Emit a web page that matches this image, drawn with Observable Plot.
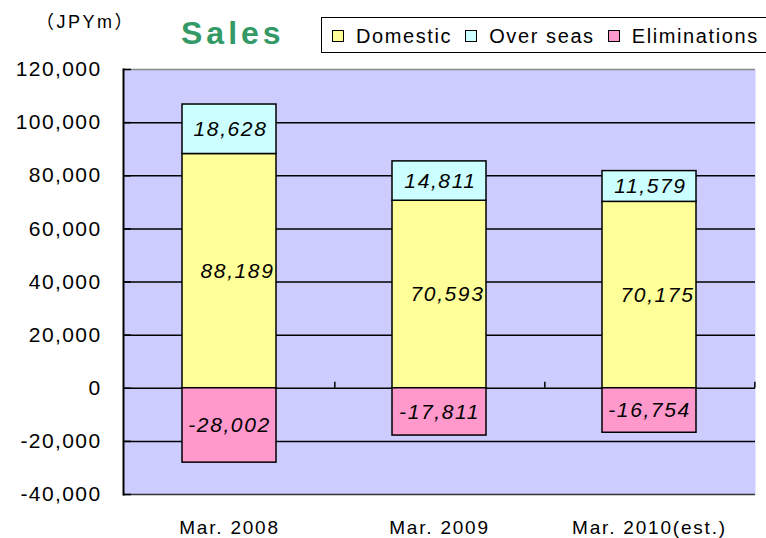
<!DOCTYPE html>
<html>
<head>
<meta charset="utf-8">
<script src="https://cdn.jsdelivr.net/npm/d3@7"></script>
<script src="https://cdn.jsdelivr.net/npm/@observablehq/plot@0.6"></script>
<style>
  html, body { margin: 0; padding: 0; background: #fff; }
  #wrap { position: relative; width: 766px; height: 538px; font-family: "Liberation Sans", Arial, sans-serif; }
  #unit { position: absolute; left: 36px; top: 7px; font-size: 18px; letter-spacing: 2.5px; color: #000; font-family: "Liberation Sans", "Noto Sans CJK JP", sans-serif; }
  #title { position: absolute; left: 181px; top: 15px; font-size: 32px; font-weight: bold; color: #339966; letter-spacing: 4px; }
  #legend { position: absolute; left: 321px; top: 17px; width: 460px; height: 34px; border: 1.5px solid #000; background: #fff; display: flex; align-items: center; font-size: 20px; letter-spacing: 1.6px; padding-top: 2px; box-sizing: border-box; height: 36px; }
  .sw { display: inline-block; width: 10px; height: 10px; border: 1.5px solid #000; margin: 0 12px 0 0; }
  .it { display: flex; align-items: center; margin-left: 10px; margin-right: 3px; }
  #chart g[aria-label="y-axis tick label"] text { letter-spacing: 1.4px; }
  #chart g[aria-label="x-axis tick label"] text { letter-spacing: 1.8px; }
  #chart g[aria-label="text"] text { letter-spacing: 1.6px; }
</style>
</head>
<body>
<div id="wrap">
  <div id="chart"></div>
  <div id="unit">（JPYm）</div>
  <div id="title">Sales</div>
  <div id="legend"></div>
</div>
<script>
const categories = ["Mar. 2008", "Mar. 2009", "Mar. 2010(est.)"];
const seriesNames = ["Domestic", "Over seas", "Eliminations"];
const seriesColors = ["#FFFF99", "#CCFFFF", "#FF99CC"];
const domestic = [88189, 70593, 70175];
const overseas = [18628, 14811, 11579];
const eliminations = [-28002, -17811, -16754];
const yTicks = [-40000, -20000, 0, 20000, 40000, 60000, 80000, 100000, 120000];

const seriesValues = [domestic, overseas, eliminations];
const data = [];
categories.forEach((c, i) => {
  seriesNames.forEach((s, j) => data.push({cat: c, series: s, value: seriesValues[j][i]}));
});

// label midpoints computed from the data
const labels = [];
categories.forEach((c, i) => {
  labels.push({cat: c, series: "Domestic", y: domestic[i] / 2, value: domestic[i]});
  labels.push({cat: c, series: "Over seas", y: domestic[i] + overseas[i] / 2, value: overseas[i]});
  labels.push({cat: c, series: "Eliminations", y: eliminations[i] / 2, value: eliminations[i]});
});
const fmt = v => d3.format(",")(v).replace("\u2212", "-");

// legend
const leg = document.getElementById("legend");
seriesNames.forEach((s, j) => {
  const it = document.createElement("span");
  it.className = "it";
  const sw = document.createElement("span");
  sw.className = "sw";
  sw.style.background = seriesColors[j];
  it.appendChild(sw);
  it.appendChild(document.createTextNode(s));
  leg.appendChild(it);
});

const step = (766 - 123 - 11) / categories.length;
const labelStyle = {fontSize: 21, fontStyle: "italic", fill: "#000"};

const chart = Plot.plot({
  width: 766,
  height: 538,
  marginTop: 69,
  marginBottom: 44,
  marginLeft: 123,
  marginRight: 11,
  style: {fontFamily: "Liberation Sans, Arial, sans-serif", background: "transparent"},
  x: {domain: categories, paddingInner: 0.55, paddingOuter: 0.275, axis: null},
  y: {domain: [-40000, 120000], axis: null},
  color: {domain: seriesNames, range: seriesColors},
  marks: [
    Plot.frame({fill: "#CCCCFF", stroke: null}),
    Plot.ruleY(yTicks.filter(v => v !== 120000 && v !== -40000), {stroke: "#000", strokeWidth: 1.5}),
    Plot.ruleY([120000], {stroke: "#888", strokeWidth: 1.5}),
    Plot.ruleY([-40000], {stroke: "#333", strokeWidth: 1.5}),
    Plot.frame({anchor: "left", stroke: "#000", strokeWidth: 2}),
    Plot.axisY({ticks: yTicks, tickSize: -8, tickPadding: 30, tickFormat: fmt, fontSize: 21, stroke: "#000", strokeWidth: 1.5, label: null}),
    Plot.barY(data, Plot.stackY({x: "cat", y: "value", fill: "series", stroke: "#000", strokeWidth: 1.5, order: seriesNames})),
    Plot.ruleX(categories, {x: d => d, y1: 0, y2: 2300, dx: step / 2, stroke: "#000", strokeWidth: 1.5}),
    Plot.text(labels.filter(d => d.series === "Domestic"), {x: "cat", y: "y", text: d => fmt(d.value), dx: 8, ...labelStyle}),
    Plot.text(labels.filter(d => d.series === "Over seas"), {x: "cat", y: "y", text: d => fmt(d.value), dx: 1, ...labelStyle}),
    Plot.text(labels.filter(d => d.series === "Eliminations"), {x: "cat", y: "y", text: d => fmt(d.value), dx: 0, ...labelStyle}),
    Plot.axisX({tickSize: 0, tickPadding: 26, fontSize: 19, anchor: "bottom", label: null})
  ]
});
document.getElementById("chart").appendChild(chart);
</script>
</body>
</html>
